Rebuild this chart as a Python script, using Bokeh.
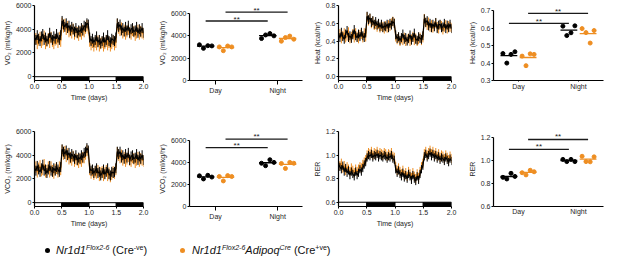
import numpy as np
from bokeh.plotting import figure
from bokeh.layouts import column, row
from bokeh.models import Range1d, FixedTicker, NumeralTickFormatter, Div
from bokeh.embed import file_html
from bokeh.resources import INLINE

FONT = "Liberation Sans"
BLACK = "#000000"
ORANGE = "#EE8E22"
TXT = "#262626"

# ---------------- time-course data (80 samples over 2 days) ----------------
vo2_neg = [3300, 3100, 3500, 3200, 3000, 3400, 3600, 3100, 3300, 3000, 3200, 3700, 3300, 3100, 3400, 3200, 3600, 3300, 3100, 3500,
           4700, 4400, 4200, 4500, 4100, 4300, 3900, 4200, 4000, 3800, 4100, 3700, 3900, 3800, 4100, 3900, 4300, 4200, 4500, 4400,
           3300, 3000, 3200, 2900, 3100, 3400, 2900, 3100, 2800, 3000, 3300, 2900, 3100, 3500, 3000, 2900, 3200, 3100, 3000, 3300,
           4500, 4200, 4400, 3900, 4100, 3800, 4200, 3900, 4300, 3700, 4000, 4100, 3800, 3900, 4200, 3700, 4000, 3800, 4100, 3700]
vo2_pos = [3000, 3200, 2800, 3100, 3300, 2900, 3100, 3400, 2800, 3000, 3200, 2900, 3300, 3000, 2800, 3100, 3200, 2900, 3300, 3000,
           4500, 4200, 4400, 4000, 4200, 3800, 3900, 3700, 4000, 3600, 3800, 3700, 3500, 3800, 3600, 3900, 3800, 4100, 4300, 4100,
           3000, 2700, 2900, 2600, 2900, 2700, 3000, 2600, 2800, 2900, 2600, 2800, 3000, 2700, 2900, 2600, 2800, 3000, 2700, 2900,
           4400, 4100, 3900, 4100, 3700, 3900, 3600, 3800, 4000, 3700, 3600, 3900, 3800, 3500, 3700, 3900, 3600, 3800, 3700, 3600]
heat_neg = [0.47, 0.44, 0.50, 0.45, 0.42, 0.48, 0.52, 0.44, 0.46, 0.43, 0.47, 0.53, 0.46, 0.44, 0.48, 0.45, 0.50, 0.46, 0.44, 0.49,
            0.68, 0.64, 0.66, 0.61, 0.63, 0.59, 0.62, 0.58, 0.60, 0.56, 0.59, 0.55, 0.57, 0.56, 0.59, 0.55, 0.60, 0.58, 0.62, 0.60,
            0.47, 0.43, 0.45, 0.41, 0.44, 0.48, 0.42, 0.44, 0.40, 0.43, 0.47, 0.41, 0.44, 0.49, 0.42, 0.41, 0.45, 0.43, 0.42, 0.46,
            0.65, 0.61, 0.63, 0.57, 0.60, 0.55, 0.59, 0.56, 0.61, 0.54, 0.58, 0.59, 0.55, 0.56, 0.60, 0.54, 0.58, 0.55, 0.59, 0.54]
heat_pos = [0.45, 0.48, 0.43, 0.46, 0.49, 0.44, 0.46, 0.50, 0.43, 0.45, 0.48, 0.44, 0.49, 0.45, 0.43, 0.47, 0.48, 0.44, 0.49, 0.45,
            0.67, 0.63, 0.65, 0.60, 0.62, 0.58, 0.59, 0.56, 0.59, 0.55, 0.57, 0.56, 0.54, 0.57, 0.55, 0.58, 0.57, 0.60, 0.62, 0.60,
            0.45, 0.42, 0.44, 0.40, 0.43, 0.41, 0.44, 0.40, 0.42, 0.43, 0.40, 0.42, 0.45, 0.41, 0.43, 0.40, 0.42, 0.44, 0.41, 0.44,
            0.65, 0.61, 0.58, 0.61, 0.56, 0.58, 0.55, 0.57, 0.60, 0.56, 0.54, 0.58, 0.57, 0.53, 0.56, 0.58, 0.54, 0.57, 0.56, 0.55]
vco2_neg = [2900, 2700, 3100, 2800, 2600, 2900, 3200, 2700, 2800, 2500, 2800, 3100, 2700, 2600, 2900, 2700, 3000, 2800, 2600, 3000,
            4500, 4300, 4100, 4400, 4000, 4200, 3800, 4100, 3900, 3700, 4000, 3600, 3800, 3700, 4000, 3800, 4200, 4300, 4600, 4400,
            2900, 2700, 2800, 2500, 2700, 2900, 2500, 2600, 2300, 2500, 2800, 2400, 2600, 2900, 2400, 2300, 2600, 2500, 2600, 2900,
            4300, 4100, 4300, 3800, 4000, 3700, 4100, 3800, 4200, 3600, 3900, 4000, 3700, 3800, 4100, 3600, 3900, 3700, 4000, 3600]
vco2_pos = [2800, 3000, 2600, 2900, 3100, 2700, 2800, 3200, 2600, 2700, 3000, 2600, 3000, 2700, 2500, 2800, 2900, 2600, 3000, 2800,
            4400, 4100, 4300, 3900, 4100, 3700, 3800, 3600, 3900, 3500, 3700, 3600, 3400, 3700, 3500, 3800, 3800, 4100, 4400, 4200,
            2800, 2500, 2700, 2400, 2600, 2500, 2700, 2300, 2500, 2600, 2300, 2500, 2700, 2300, 2500, 2200, 2400, 2600, 2500, 2800,
            4200, 4000, 3800, 4000, 3600, 3800, 3500, 3700, 3900, 3600, 3500, 3800, 3700, 3400, 3600, 3800, 3500, 3700, 3600, 3500]
rer_neg = [0.92, 0.90, 0.88, 0.91, 0.86, 0.89, 0.85, 0.87, 0.83, 0.86, 0.84, 0.82, 0.86, 0.83, 0.85, 0.88, 0.86, 0.89, 0.92, 0.94,
           0.98, 1.00, 0.99, 1.01, 0.98, 1.00, 0.99, 1.01, 0.98, 1.00, 0.99, 0.98, 1.00, 0.99, 0.97, 0.99, 0.98, 1.00, 0.97, 0.96,
           0.88, 0.85, 0.87, 0.84, 0.82, 0.85, 0.81, 0.83, 0.80, 0.84, 0.82, 0.79, 0.83, 0.80, 0.78, 0.82, 0.79, 0.84, 0.88, 0.91,
           0.99, 1.01, 0.98, 1.00, 1.02, 0.99, 1.01, 0.98, 1.00, 0.97, 0.99, 0.96, 0.98, 0.97, 0.95, 0.98, 0.96, 0.94, 0.97, 0.95]
rer_pos = [0.94, 0.91, 0.93, 0.89, 0.91, 0.87, 0.90, 0.88, 0.86, 0.89, 0.87, 0.85, 0.88, 0.86, 0.88, 0.90, 0.89, 0.92, 0.94, 0.96,
           1.00, 1.02, 1.01, 1.03, 1.00, 1.02, 1.01, 1.03, 1.00, 1.02, 1.01, 1.00, 1.02, 1.01, 0.99, 1.01, 1.00, 1.02, 0.99, 0.98,
           0.90, 0.87, 0.89, 0.86, 0.84, 0.87, 0.83, 0.85, 0.82, 0.86, 0.84, 0.81, 0.85, 0.82, 0.80, 0.84, 0.81, 0.86, 0.90, 0.93,
           1.01, 1.03, 1.00, 1.02, 1.04, 1.01, 1.03, 1.00, 1.02, 0.99, 1.01, 0.98, 1.00, 0.99, 0.97, 1.00, 0.98, 0.96, 0.99, 0.97]
# SEM (error bar half-length): Cre-ve, Cre+ve
vo2_sem = (420, 480)
heat_sem = (0.05, 0.055)
vco2_sem = (420, 480)
rer_sem = (0.035, 0.04)

# light / dark phases
phase_start = [0.0, 0.5, 1.0, 1.5]
phase_end = [0.5, 1.0, 1.5, 2.0]
phase_fill = ["white", "black", "white", "black"]
time_ticks = [0.0, 0.5, 1.0, 1.5, 2.0]

# ---------------- Day / Night averages (n = 4 per group) ----------------
categories = ["Day", "Night"]
vo2_day_neg = [3200, 2880, 3120, 3100]
vo2_day_pos = [3010, 2670, 3090, 3010]
vo2_night_neg = [3760, 4080, 4210, 4000]
vo2_night_pos = [3520, 3850, 3980, 3700]
heat_day_neg = [0.455, 0.400, 0.450, 0.465]
heat_day_pos = [0.440, 0.385, 0.453, 0.450]
heat_night_neg = [0.612, 0.558, 0.574, 0.614]
heat_night_pos = [0.598, 0.575, 0.515, 0.587]
vco2_day_neg = [2780, 2500, 2830, 2670]
vco2_day_pos = [2720, 2320, 2800, 2720]
vco2_night_neg = [3920, 3700, 4240, 4000]
vco2_night_pos = [3900, 3450, 4000, 3920]
rer_day_neg = [0.852, 0.838, 0.887, 0.860]
rer_day_pos = [0.892, 0.873, 0.913, 0.900]
rer_night_neg = [1.007, 0.988, 1.007, 0.988]
rer_night_pos = [1.034, 0.988, 0.986, 1.029]
# significance bar levels (Day vs Night, each genotype)
vo2_sig = (5333, 6133)
heat_sig = (0.628, 0.686)
vco2_sig = (5333, 6107)
rer_sig = (1.093, 1.179)

JIT = [-0.1, -0.035, 0.035, 0.1]
GOFF = 0.16


def style(p, tick_out=2, label_standoff=1):
    for ax in p.axis:
        ax.axis_line_color = "black"
        ax.axis_line_width = 1.2
        ax.major_tick_line_color = "black"
        ax.major_tick_line_width = 1
        ax.major_tick_out = 2
        ax.major_tick_in = 0
        ax.minor_tick_line_color = None
        ax.minor_tick_out = 0
        ax.major_label_text_font = FONT
        ax.major_label_text_font_size = "7px"
        ax.major_label_text_color = TXT
        ax.major_label_standoff = 1
        ax.axis_label_text_font = FONT
        ax.axis_label_text_font_size = "7px"
        ax.axis_label_text_font_style = "normal"
        ax.axis_label_text_color = TXT
        ax.axis_label_standoff = 2
    p.xaxis.major_tick_out = tick_out
    p.xaxis.major_label_standoff = label_standoff
    p.xgrid.visible = False
    p.ygrid.visible = False
    p.outline_line_color = None
    p.background_fill_color = "white"
    p.border_fill_color = "white"


def time_panel(neg, pos, sem, y0, y1, bar_top, yticks, fmt, ylabel,
               width, mbl, mbr, height, mbt, mbb):
    p = figure(width=width, height=height, x_range=Range1d(0, 2.0), y_range=Range1d(y0, y1),
               output_backend="svg", toolbar_location=None,
               min_border_left=mbl, min_border_right=mbr, min_border_top=mbt, min_border_bottom=mbb)
    t = np.linspace(0, 2, len(neg))
    for vals, err, col in ((pos, sem[1], ORANGE), (neg, sem[0], BLACK)):
        v = np.array(vals, dtype=float)
        p.segment(t, v - err, t, v + err, color=col, line_width=1)
        p.line(t, v, color=col, line_width=1.2)
    p.quad(left=phase_start, right=phase_end, bottom=y0, top=bar_top,
           fill_color=phase_fill, line_color="black", line_width=1)
    style(p)
    p.xaxis.ticker = FixedTicker(ticks=time_ticks)
    p.xaxis.formatter = NumeralTickFormatter(format="0.0")
    p.xaxis.axis_label = "Time (days)"
    p.yaxis.ticker = FixedTicker(ticks=yticks)
    p.yaxis.formatter = NumeralTickFormatter(format=fmt)
    p.yaxis.axis_label = ylabel
    return p


def dot_panel(day_neg, day_pos, night_neg, night_pos, sig, y0, ytop, y1, yticks, fmt, ylabel,
              star_dy, xr, tick_out, lab_off, width, mbl, mbr, height, mbt, mbb):
    p = figure(width=width, height=height, x_range=Range1d(*xr), y_range=Range1d(y0, y1),
               output_backend="svg", toolbar_location=None,
               min_border_left=mbl, min_border_right=mbr, min_border_top=mbt, min_border_bottom=mbb)
    groups = [(1 - GOFF, day_neg, BLACK), (1 + GOFF, day_pos, ORANGE),
              (2 - GOFF, night_neg, BLACK), (2 + GOFF, night_pos, ORANGE)]
    for cx, vals, col in groups:
        xs = [cx + j for j in JIT]
        p.scatter(xs, vals, size=4, fill_color=col, line_color=col)
        m = float(np.mean(vals))
        p.segment(cx - 0.14, m, cx + 0.14, m, color=col, line_width=1.3)
    # significance bars
    p.segment([1 - GOFF, 1 + GOFF], [sig[0], sig[1]], [2 - GOFF, 2 + GOFF], [sig[0], sig[1]],
              color="#1a1a1a", line_width=1.3)
    p.text([1.5 - GOFF, 1.5 + GOFF], [sig[0] + star_dy, sig[1] + star_dy], text=["**", "**"],
           text_align="center", text_baseline="middle", text_font_size="8px", text_color="#1a1a1a")
    style(p, tick_out, lab_off)
    p.yaxis.bounds = (y0, ytop)
    p.xaxis.ticker = FixedTicker(ticks=[1, 2])
    p.xaxis.major_label_overrides = {1: categories[0], 2: categories[1]}
    p.yaxis.ticker = FixedTicker(ticks=yticks)
    p.yaxis.formatter = NumeralTickFormatter(format=fmt)
    p.yaxis.axis_label = ylabel
    return p


XR = (0.58, 2.40)
XR4 = (0.583, 2.417)
H1, H2, H3 = 122, 118, 19

p1 = time_panel(vo2_neg, vo2_pos, vo2_sem, -320, 6000, 0, [0, 2000, 4000, 6000], "0",
                "VO₂ (ml/kg/hr)", 152, 30, 9, H1, 5, 38)
p2 = dot_panel(vo2_day_neg, vo2_day_pos, vo2_night_neg, vo2_night_pos, vo2_sig, 0, 6000, 6720,
               [0, 2000, 4000, 6000], "0", "VO₂ (ml/kg/hr)", 120, XR, 4, 2, 155, 37, 5, H1, 0, 38)
p3 = time_panel(heat_neg, heat_pos, heat_sem, -0.0425, 0.8, 0, [0, 0.2, 0.4, 0.6, 0.8], "0.0",
                "Heat (kcal/hr)", 153, 31, 9, H1, 5, 38)
p4 = dot_panel(heat_day_neg, heat_day_pos, heat_night_neg, heat_night_pos, heat_sig, 0.3, 0.7, 0.7307,
               [0.3, 0.4, 0.5, 0.6, 0.7], "0.0", "Heat (kcal/hr)", 0.0113, XR4, 1, 1, 152, 33, 9, H1, 0, 42)
p5 = time_panel(vco2_neg, vco2_pos, vco2_sem, -320, 6000, 0, [0, 2000, 4000, 6000], "0",
                "VCO₂ (ml/kg/hr)", 152, 30, 9, H2, 9, 30)
p6 = dot_panel(vco2_day_neg, vco2_day_pos, vco2_night_neg, vco2_night_pos, vco2_sig, 0, 6000, 6800,
               [0, 2000, 4000, 6000], "0", "VCO₂ (ml/kg/hr)", 200, XR, 4, 2, 155, 37, 5, H2, 4, 29)
p7 = time_panel(rer_neg, rer_pos, rer_sem, 0.5638, 1.2, 0.6, [0.6, 0.8, 1.0, 1.2], "0.0",
                "RER", 153, 31, 9, H2, 9, 30)
p8 = dot_panel(rer_day_neg, rer_day_pos, rer_night_neg, rer_night_pos, rer_sig, 0.6, 1.2, 1.248,
               [0.6, 0.8, 1.0, 1.2], "0.0", "RER", 0.0224, XR4, 0, 1, 152, 33, 9, H2, 3, 34)

sup = "font-size:7px;vertical-align:4px;line-height:0"
legend_html = (
    f'<div style="position:relative;width:612px;height:{H3}px;font-family:\'{FONT}\',Arial,sans-serif;'
    f'font-size:11px;color:#111;white-space:nowrap;">'
    f'<span style="position:absolute;left:45px;top:8px;width:5px;height:5px;border-radius:50%;background:#000;"></span>'
    f'<span style="position:absolute;left:56px;top:4px;line-height:12px;">'
    f'<i>Nr1d1</i><sup style="{sup}"><i>Flox2-6</i></sup> (Cre<sup style="{sup}">-ve</sup>)</span>'
    f'<span style="position:absolute;left:180px;top:8px;width:5px;height:5px;border-radius:50%;background:{ORANGE};"></span>'
    f'<span style="position:absolute;left:192px;top:4px;line-height:12px;">'
    f'<i>Nr1d1</i><sup style="{sup}"><i>Flox2-6</i></sup><i>Adipoq</i><sup style="{sup}"><i>Cre</i></sup>'
    f' (Cre<sup style="{sup}">+ve</sup>)</span>'
    f'</div>'
)
legend = Div(text=legend_html, width=612, height=H3, margin=(0, 0, 0, 0))

layout = column(row(p1, p2, p3, p4), row(p5, p6, p7, p8), legend)

with open("out.html", "w") as f:
    f.write(file_html(layout, INLINE))
